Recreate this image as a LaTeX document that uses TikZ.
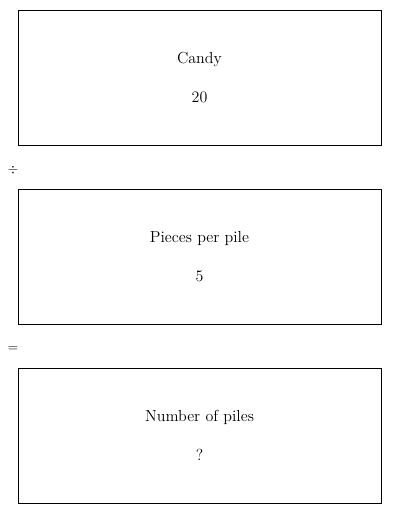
\documentclass[tikz,border=0pt]{standalone}
\usepackage{tikz}
\usetikzlibrary{positioning, calc}

\tikzset{
  quantbox/.style={draw, line width=0.75pt, minimum width=272.25pt, minimum height=101.25pt,
    align=center, font=\fontsize{12}{14.5}\selectfont, inner sep=0pt},
  opsign/.style={font=\fontsize{10}{12}\selectfont, inner sep=0pt}
}

\begin{document}
\begin{tikzpicture}[x=0.75pt,y=-0.75pt]
\useasboundingbox (0,0) rectangle (400,514);
\foreach \n / \y / \name / \val in {a / 77.5 / Candy / 20,
  b / 256.5 / Pieces per pile / 5, c / 435.5 / Number of piles / ?} {
\node[quantbox] (box\n) at (199.5,\y) {\name\\[14.75pt]\val};
}
\node[opsign] (div) at (13,170) {$\div$};
\node[opsign] (eq) at (13,349) {$=$};
\end{tikzpicture}
\end{document}
